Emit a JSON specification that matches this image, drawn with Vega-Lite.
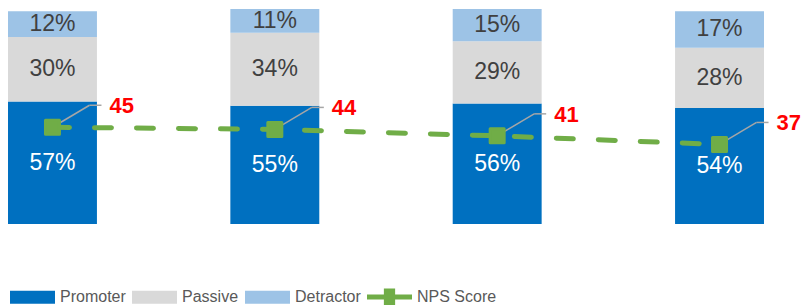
{
  "$schema": "https://vega.github.io/schema/vega-lite/v6.json",
  "width": 772,
  "height": 215,
  "autosize": {"type": "none"},
  "padding": {"left": 0, "top": 9, "right": 29, "bottom": 81},
  "config": {
    "view": {"stroke": null},
    "font": "Liberation Sans"
  },
  "datasets": {
    "shares": [
      {"q": "1", "series": "Promoter", "pct": 57},
      {"q": "1", "series": "Passive", "pct": 30},
      {"q": "1", "series": "Detractor", "pct": 12},
      {"q": "2", "series": "Promoter", "pct": 55},
      {"q": "2", "series": "Passive", "pct": 34},
      {"q": "2", "series": "Detractor", "pct": 11},
      {"q": "3", "series": "Promoter", "pct": 56},
      {"q": "3", "series": "Passive", "pct": 29},
      {"q": "3", "series": "Detractor", "pct": 15},
      {"q": "4", "series": "Promoter", "pct": 54},
      {"q": "4", "series": "Passive", "pct": 28},
      {"q": "4", "series": "Detractor", "pct": 17}
    ],
    "nps": [
      {"q": "1", "nps": 45},
      {"q": "2", "nps": 44},
      {"q": "3", "nps": 41},
      {"q": "4", "nps": 37}
    ]
  },
  "encoding": {
    "x": {"field": "q", "type": "nominal", "axis": null, "scale": {"paddingInner": 0.6, "paddingOuter": 0.036}}
  },
  "layer": [
    {
      "data": {"name": "shares"},
      "transform": [
        {"calculate": "indexof(['Promoter','Passive','Detractor'], datum.series)", "as": "ord"},
        {"stack": "pct", "groupby": ["q"], "sort": [{"field": "ord"}], "as": ["y0", "y1"]}
      ],
      "mark": {"type": "bar"},
      "encoding": {
        "y": {"field": "y0", "type": "quantitative", "axis": null, "scale": {"domain": [0, 100], "nice": false}},
        "y2": {"field": "y1"},
        "color": {
          "field": "series",
          "type": "nominal",
          "scale": {
            "domain": ["Promoter", "Passive", "Detractor", "NPS Score"],
            "range": ["#0070C0", "#D9D9D9", "#9DC3E6", "#70AD47"]
          },
          "legend": {
            "title": null,
            "orient": "none",
            "legendX": 10,
            "legendY": 265,
            "direction": "horizontal",
            "padding": 0,
            "symbolSize": 2025,
            "symbolStrokeWidth": 0,
            "labelFont": "Liberation Sans",
            "labelFontSize": 16,
            "labelColor": "#595959",
            "labelOffset": 5,
            "columnPadding": 6,
            "encode": {
              "symbols": {
                "update": {
                  "shape": {"signal": "datum.value === 'NPS Score' ? 'M-1,-0.11H-0.25V-0.38H0.25V-0.11H1V0.11H0.25V0.38H-0.25V0.11H-1Z' : 'M-1,-0.29H1V0.29H-1Z'"}
                }
              }
            }
          }
        }
      }
    },
    {
      "data": {"name": "shares"},
      "transform": [
        {"calculate": "indexof(['Promoter','Passive','Detractor'], datum.series)", "as": "ord"},
        {"stack": "pct", "groupby": ["q"], "sort": [{"field": "ord"}], "as": ["y0", "y1"]},
        {"calculate": "(datum.y0 + datum.y1) / 2", "as": "mid"},
        {"calculate": "datum.pct + '%'", "as": "label"}
      ],
      "mark": {"type": "text", "font": "Liberation Sans", "fontSize": 23, "baseline": "middle", "align": "center"},
      "encoding": {
        "y": {"field": "mid", "type": "quantitative"},
        "text": {"field": "label"},
        "color": {"condition": {"test": "datum.series === 'Promoter'", "value": "#FFFFFF"}, "value": "#404040"}
      }
    },
    {
      "data": {"name": "nps"},
      "mark": {"type": "line", "color": "#70AD47", "strokeWidth": 5, "strokeDash": [17, 25], "strokeCap": "round"},
      "encoding": {
        "y": {"field": "nps", "type": "quantitative"}
      }
    },
    {
      "data": {"name": "nps"},
      "mark": {"type": "rule", "color": "#A6A6A6", "strokeWidth": 1.5, "x2Offset": 37, "y2Offset": -22},
      "encoding": {
        "y": {"field": "nps", "type": "quantitative"},
        "x2": {"field": "q"},
        "y2": {"field": "nps"}
      }
    },
    {
      "data": {"name": "nps"},
      "mark": {"type": "rule", "color": "#A6A6A6", "strokeWidth": 1.5, "xOffset": 37, "x2Offset": 49, "yOffset": -22, "y2Offset": -22},
      "encoding": {
        "y": {"field": "nps", "type": "quantitative"},
        "x2": {"field": "q"},
        "y2": {"field": "nps"}
      }
    },
    {
      "data": {"name": "nps"},
      "mark": {"type": "point", "shape": "square", "filled": true, "size": 196, "color": "#70AD47", "stroke": "#70AD47", "strokeWidth": 3, "strokeJoin": "round", "opacity": 1},
      "encoding": {
        "y": {"field": "nps", "type": "quantitative"}
      }
    },
    {
      "data": {"name": "nps"},
      "mark": {"type": "text", "font": "Liberation Sans", "fontWeight": "bold", "fontSize": 22, "color": "#FF0000", "align": "left", "baseline": "middle", "xOffset": 57, "yOffset": -21},
      "encoding": {
        "y": {"field": "nps", "type": "quantitative"},
        "text": {"field": "nps"}
      }
    }
  ]
}
